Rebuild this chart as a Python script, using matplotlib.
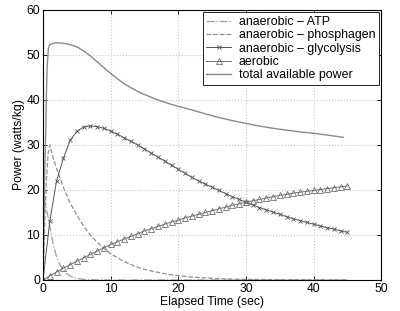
import matplotlib
matplotlib.use("Agg")
import matplotlib.pyplot as plt

plt.rcParams['font.family'] = ['Liberation Sans', 'DejaVu Sans']
plt.rcParams['font.size'] = 8.7

# anaerobic - ATP
t_atp = [0, 0.1, 0.2, 0.5, 1, 1.5, 2, 2.5, 3, 3.5, 4, 5, 6, 8, 10, 20, 30, 45]
p_atp = [0, 15, 18, 16, 12, 8, 5.2, 3.4, 2.2, 1.4, 0.9, 0.35, 0.15, 0.03, 0, 0, 0, 0]

# anaerobic - phosphagen
t_pho = [0, 0.25, 0.5, 0.75, 1, 1.5, 2, 3, 4, 5, 6, 7, 8, 9, 10, 12, 14, 16, 18,
         20, 22, 24, 26, 28, 30, 35, 40, 45]
p_pho = [0, 12, 22, 28, 30, 27.2, 24.8, 20.6, 17.2, 14.4, 12.0, 10.0, 8.4, 7.0, 5.8,
         4.1, 2.8, 2.0, 1.4, 0.95, 0.65, 0.45, 0.3, 0.2, 0.15, 0.06, 0.02, 0.01]

# anaerobic - glycolysis / aerobic, sampled every second
t_sec = list(range(46))
p_gly = [0, 13, 22, 27, 31, 33, 34, 34.2, 34.1, 33.7, 33.1, 32.4, 31.6, 30.8, 30.0,
         29.1, 28.2, 27.3, 26.4, 25.5, 24.6, 23.7, 22.8, 22.0, 21.3, 20.6, 19.9,
         19.2, 18.5, 17.9, 17.3, 16.7, 16.1, 15.6, 15.1, 14.6, 14.1, 13.6, 13.2,
         12.8, 12.4, 12.0, 11.6, 11.3, 10.9, 10.6]
p_aer = [0, 0.9, 1.8, 2.6, 3.4, 4.2, 4.9, 5.7, 6.4, 7.2, 7.9, 8.5, 9.1, 9.7, 10.3,
         10.9, 11.4, 11.9, 12.4, 12.9, 13.3, 13.8, 14.2, 14.6, 15.0, 15.4, 15.8,
         16.2, 16.6, 16.9, 17.3, 17.6, 17.9, 18.2, 18.5, 18.8, 19.0, 19.3, 19.5,
         19.7, 19.9, 20.1, 20.3, 20.5, 20.7, 20.9]

# total available power
t_tot = [0, 0.1, 0.2, 0.3, 0.4, 0.5, 0.6, 0.8, 1, 1.5, 2, 3, 4, 5, 6, 7, 8, 9, 10,
         11, 12, 13, 14, 15, 16, 17, 18, 19, 20, 22, 24, 26, 28, 30, 32, 34, 36,
         38, 40, 42, 44.4]
p_tot = [0, 10, 20, 27, 33, 41, 47, 51.5, 52.3, 52.6, 52.7, 52.6, 52.3, 51.8, 50.9,
         49.8, 48.5, 47.2, 45.9, 44.7, 43.6, 42.7, 41.9, 41.2, 40.6, 40.0, 39.5,
         39.0, 38.6, 37.8, 36.9, 36.1, 35.4, 34.8, 34.2, 33.7, 33.3, 32.9, 32.6,
         32.2, 31.7]

fig = plt.figure(figsize=(4, 3.11), dpi=100)
ax = fig.add_axes([0.1075, 0.0997, 0.8455, 0.8683])

ax.plot(t_atp, p_atp, '-.', color='#a0a0a0', lw=0.9, label='anaerobic \u2013 ATP')
ax.plot(t_pho, p_pho, '--', color='#909090', lw=0.9, label='anaerobic \u2013 phosphagen')
ax.plot(t_sec, p_gly, '-', color='#555555', lw=0.7, marker='x', ms=3, mew=0.6,
        label='anaerobic \u2013 glycolysis')
ax.plot(t_sec, p_aer, '-', color='#707070', lw=0.7, marker='^', ms=4, mew=0.6,
        mfc='none', label='aerobic')
ax.plot(t_tot, p_tot, '-', color='#8a8a8a', lw=1.0, label='total available power')

ax.set_xlim(0, 50)
ax.set_ylim(0, 60)
ax.set_xticks(range(0, 51, 10))
ax.set_yticks(range(0, 61, 10))
ax.tick_params(direction='in', top=True, right=True, length=3, width=0.6, pad=2)
ax.grid(True, linestyle=':', color='#c8c8c8', lw=0.8)
for s in ax.spines.values():
    s.set_linewidth(0.8)

ax.set_xlabel('Elapsed Time (sec)', labelpad=1)
ax.set_ylabel('Power (watts/kg)', labelpad=1)

leg = ax.legend(loc='upper right', fancybox=False, edgecolor='black', fontsize=8.9,
                borderaxespad=0.2, handlelength=2.0, labelspacing=0.1,
                borderpad=0.3, handletextpad=0.6, framealpha=1)
leg.get_frame().set_linewidth(0.6)

fig.savefig('out.png', dpi=100)
